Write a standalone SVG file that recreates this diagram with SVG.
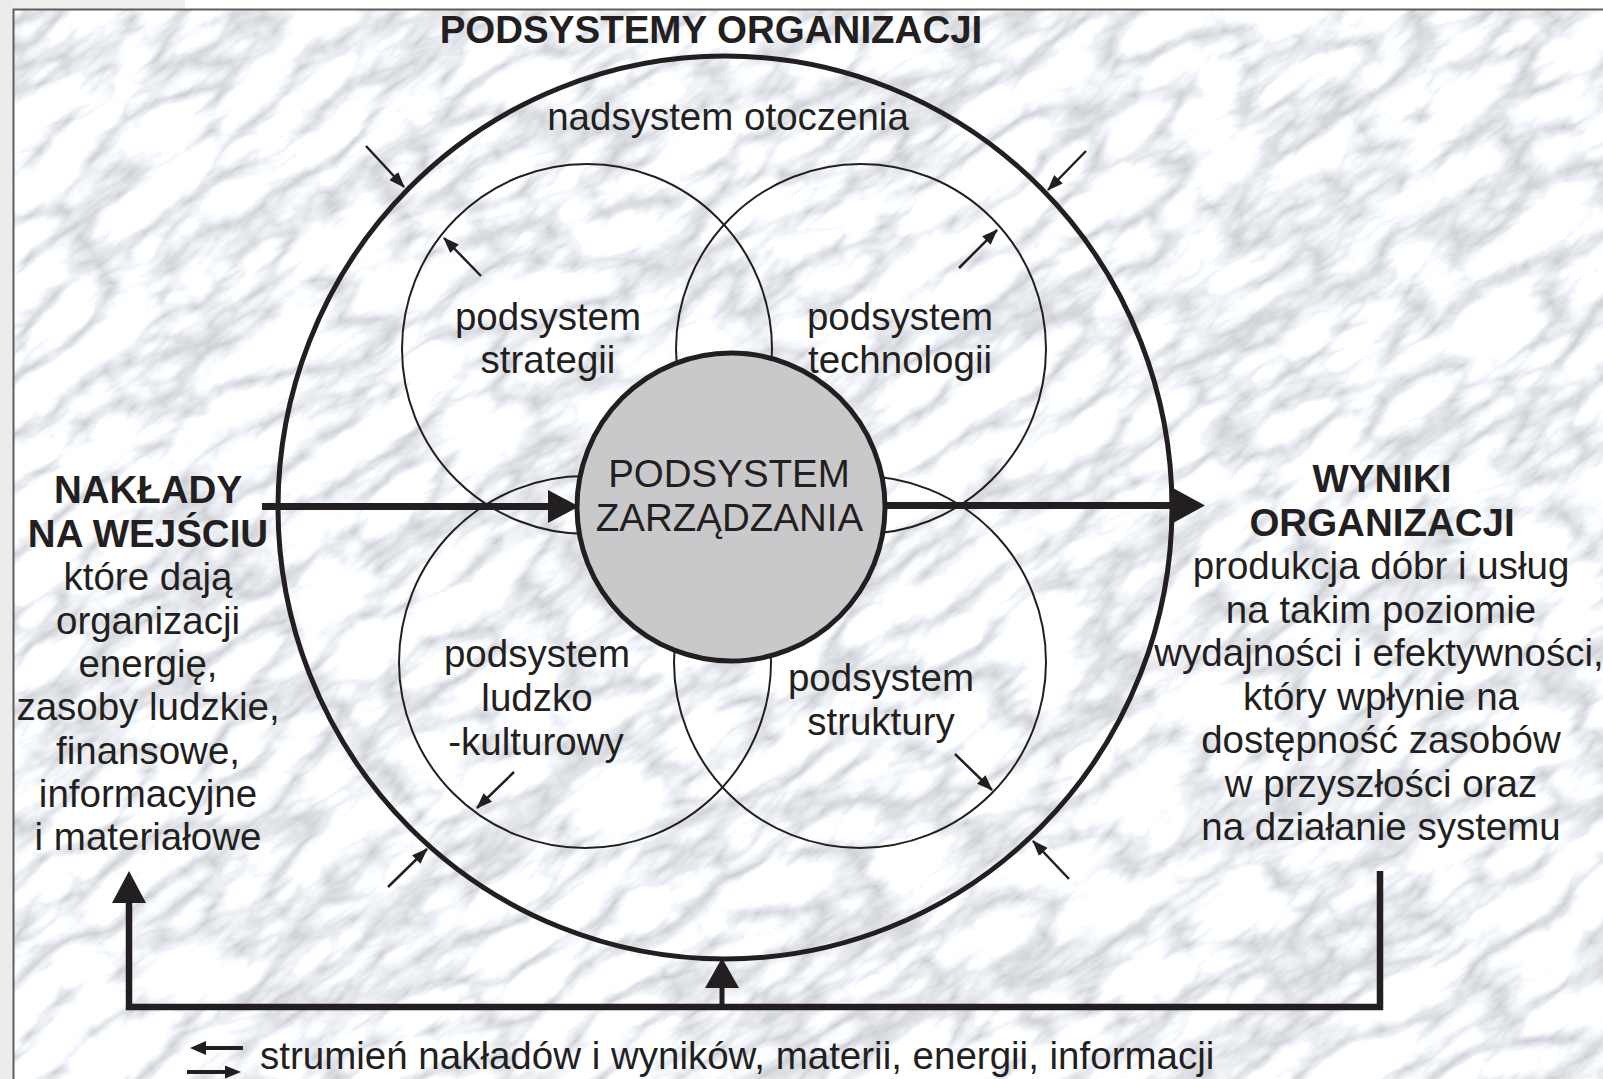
<svg xmlns="http://www.w3.org/2000/svg" width="1603" height="1079" viewBox="0 0 1603 1079">
  <style>
    .t { font-family: "Liberation Sans", Arial, sans-serif; font-size: 38.5px; fill: #231f20; text-anchor: middle; }
    .b { font-weight: bold; }
    .thin { fill: none; stroke: #231f20; stroke-width: 2; }
    .sa { fill: none; stroke: #231f20; stroke-width: 2.5; marker-end: url(#ah); }
    .thick { fill: none; stroke: #231f20; stroke-width: 6.5; }
    .head { fill: #231f20; stroke: none; }
  </style>
  <defs>
    <marker id="ah" viewBox="0 0 16 12" refX="15" refY="6" markerWidth="16" markerHeight="12" markerUnits="userSpaceOnUse" orient="auto">
      <path d="M0,0 L16,6 L0,12 Z" fill="#231f20"/>
    </marker>
    <filter id="marble" filterUnits="userSpaceOnUse" x="-400" y="-600" width="2400" height="2300" color-interpolation-filters="sRGB">
      <feTurbulence type="turbulence" baseFrequency="0.009 0.022" numOctaves="4" seed="5"/>
      <feColorMatrix type="matrix" values="0.55 0 0 0 0.79  0.55 0 0 0 0.80  0.55 0 0 0 0.82  0 0 0 0 1"/>
    </filter>
    <clipPath id="frameClip"><rect x="13" y="9" width="1590" height="1070"/></clipPath>
  </defs>

  <!-- page margins -->
  <rect x="0" y="0" width="1603" height="1079" fill="#ffffff"/>
  <rect x="0" y="0" width="185" height="9" fill="#efefef"/>
  <rect x="0" y="0" width="13" height="1079" fill="#ececec"/>

  <!-- marble background -->
  <g clip-path="url(#frameClip)">
    <rect x="13" y="9" width="1590" height="1070" fill="#e6e7ea"/>
    <g transform="rotate(-35 808 544)">
      <rect x="-400" y="-600" width="2400" height="2300" fill="#ffffff" filter="url(#marble)"/>
    </g>
  </g>
  <path d="M13.5,1079 V9.5 H1603" fill="none" stroke="#5e5e5e" stroke-width="2"/>

  <!-- title -->
  <g id="title">
    <text class="t b" x="711" y="43">PODSYSTEMY ORGANIZACJI</text>
  </g>

  <!-- outer environment supersystem -->
  <g id="nadsystem">
    <ellipse cx="725" cy="507.5" rx="447" ry="451.5" fill="none" stroke="#231f20" stroke-width="5"/>
    <text class="t" x="728" y="130">nadsystem otoczenia</text>
  </g>

  <!-- subsystems -->
  <g id="strategia">
    <circle class="thin" cx="587" cy="349" r="185"/>
    <text class="t" x="548" y="330">podsystem</text>
    <text class="t" x="548" y="373">strategii</text>
  </g>
  <g id="technologia">
    <circle class="thin" cx="861" cy="349" r="185"/>
    <text class="t" x="900" y="330">podsystem</text>
    <text class="t" x="900" y="373">technologii</text>
  </g>
  <g id="ludzko-kulturowy">
    <circle class="thin" cx="585" cy="662" r="186"/>
    <text class="t" x="537" y="667">podsystem</text>
    <text class="t" x="537" y="711">ludzko</text>
    <text class="t" x="536" y="755">-kulturowy</text>
  </g>
  <g id="struktura">
    <circle class="thin" cx="860" cy="662" r="186"/>
    <text class="t" x="881" y="691">podsystem</text>
    <text class="t" x="881" y="735">struktury</text>
  </g>

  <!-- management subsystem -->
  <g id="zarzadzanie">
    <circle cx="731" cy="507" r="154" fill="#c9c9cb" stroke="#231f20" stroke-width="5"/>
    <text class="t" x="729" y="487">PODSYSTEM</text>
    <text class="t" x="729.5" y="531">ZARZĄDZANIA</text>
  </g>

  <!-- inputs -->
  <g id="naklady">
    <text class="t b" x="148" y="503">NAKŁADY</text>
    <text class="t b" x="148" y="547">NA WEJŚCIU</text>
    <text class="t" x="148" y="590">które dają</text>
    <text class="t" x="148" y="633.5">organizacji</text>
    <text class="t" x="148" y="677">energię,</text>
    <text class="t" x="148" y="720">zasoby ludzkie,</text>
    <text class="t" x="148" y="764">finansowe,</text>
    <text class="t" x="148" y="807">informacyjne</text>
    <text class="t" x="148" y="850">i materiałowe</text>
  </g>

  <!-- outputs -->
  <g id="wyniki">
    <text class="t b" x="1382" y="492">WYNIKI</text>
    <text class="t b" x="1382" y="535.5">ORGANIZACJI</text>
    <text class="t" x="1381" y="579">produkcja dóbr i usług</text>
    <text class="t" x="1381" y="622.5">na takim poziomie</text>
    <text class="t" x="1379" y="666">wydajności i efektywności,</text>
    <text class="t" x="1381" y="709.5">który wpłynie na</text>
    <text class="t" x="1381" y="753">dostępność zasobów</text>
    <text class="t" x="1381" y="796.5">w przyszłości oraz</text>
    <text class="t" x="1381" y="840">na działanie systemu</text>
  </g>

  <!-- connectors -->
  <g id="connectors">
    <!-- input arrow -->
    <line class="thick" x1="262" y1="506.5" x2="552" y2="506.5" style="stroke-width:7"/>
    <polygon class="head" points="548,490 579,506.5 548,523"/>
    <!-- output arrow -->
    <line class="thick" x1="884" y1="505.5" x2="1176" y2="505.5" style="stroke-width:7"/>
    <polygon class="head" points="1173,488 1205,505.5 1173,523"/>

    <!-- environment influence arrows -->
    <line class="sa" x1="366" y1="146" x2="404" y2="187"/>
    <line class="sa" x1="1086" y1="151" x2="1048" y2="190"/>
    <line class="sa" x1="388" y1="887" x2="427" y2="849"/>
    <line class="sa" x1="1069" y1="879" x2="1033" y2="841"/>

    <!-- subsystem arrows -->
    <line class="sa" x1="481" y1="276" x2="444" y2="238"/>
    <line class="sa" x1="959" y1="268" x2="997" y2="230"/>
    <line class="sa" x1="514" y1="772" x2="477" y2="808"/>
    <line class="sa" x1="955" y1="754" x2="992" y2="790"/>

    <!-- feedback loop -->
    <path class="thick" d="M1380,871 V1007 H129 V900" stroke-linejoin="miter"/>
    <polygon class="head" points="112,903 129,871 146,903"/>
    <line class="thick" x1="722" y1="1007" x2="722" y2="985" style="stroke-width:5"/>
    <polygon class="head" points="705,988 722,958 739,988"/>
  </g>

  <!-- legend -->
  <g id="legend">
    <line x1="203" y1="1048" x2="243" y2="1048" stroke="#231f20" stroke-width="4"/>
    <polygon class="head" points="190,1048 206,1041 206,1055"/>
    <line x1="187" y1="1072" x2="228" y2="1072" stroke="#231f20" stroke-width="4"/>
    <polygon class="head" points="241,1072 225,1065.5 225,1078.5"/>
    <text class="t" x="260" y="1069" style="text-anchor:start">strumień nakładów i wyników, materii, energii, informacji</text>
  </g>
</svg>
